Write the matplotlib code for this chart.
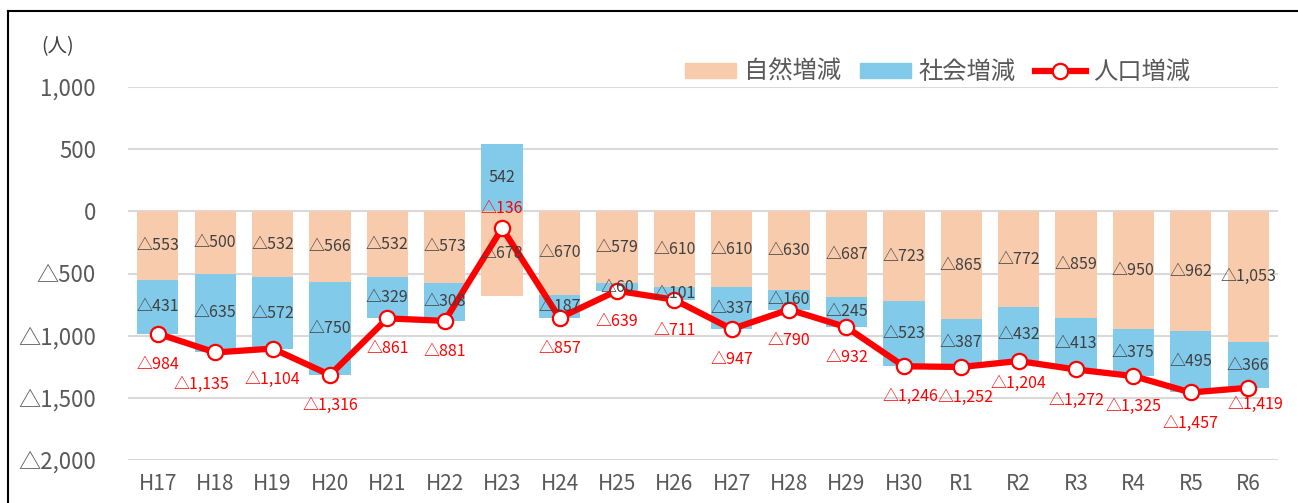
import matplotlib.pyplot as plt
from matplotlib.lines import Line2D
from matplotlib.patches import Patch
import numpy as np

plt.rcParams['font.family'] = ['Noto Sans CJK JP', 'DejaVu Sans']

# data
years = ['H17', 'H18', 'H19', 'H20', 'H21', 'H22', 'H23', 'H24', 'H25', 'H26',
         'H27', 'H28', 'H29', 'H30', 'R1', 'R2', 'R3', 'R4', 'R5', 'R6']
natural = [-553, -500, -532, -566, -532, -573, -678, -670, -579, -610,
           -610, -630, -687, -723, -865, -772, -859, -950, -962, -1053]
social = [-431, -635, -572, -750, -329, -308, 542, -187, -60, -101,
          -337, -160, -245, -523, -387, -432, -413, -375, -495, -366]
total = [-984, -1135, -1104, -1316, -861, -881, -136, -857, -639, -711,
         -947, -790, -932, -1246, -1252, -1204, -1272, -1325, -1457, -1419]
yticks = [1000, 500, 0, -500, -1000, -1500, -2000]

c_nat = '#F8CBAD'
c_soc = '#82CAEA'
c_line = '#FF0000'
c_txt = '#595959'


def fmt(v):
    s = '{:,}'.format(abs(v))
    return ('△' + s) if v < 0 else s


fig = plt.figure(figsize=(12.98, 5.03), dpi=100)
ax = fig.add_axes([128 / 1298, 43 / 503, 1150 / 1298, 373 / 503])

x = np.arange(len(years))
nat = np.array(natural)
soc = np.array(social)
soc_bottom = np.where(soc < 0, nat, 0)

ax.bar(x, nat, width=0.72, color=c_nat, zorder=2)
ax.bar(x, soc, width=0.72, bottom=soc_bottom, color=c_soc, zorder=2)
ax.plot(x, total, color=c_line, lw=4.5, marker='o', ms=11,
        mfc='white', mec=c_line, mew=1.6, zorder=4)

for i in range(len(years)):
    ax.text(x[i], nat[i] / 2, fmt(natural[i]), ha='center', va='center',
            fontsize=11.5, color='#404040', zorder=5)
    ax.text(x[i], soc_bottom[i] + soc[i] / 2, fmt(social[i]), ha='center',
            va='center', fontsize=11.5, color='#404040', zorder=5)

# line label offsets (points)
offsets = {1: (-10, -23), 6: (0, 14), 13: (5, -22), 14: (3, -22),
           15: (0, -16), 19: (5, -12)}
for i, v in enumerate(total):
    dx, dy = offsets.get(i, (0, -22))
    ax.annotate(fmt(v), (x[i], v), xytext=(dx, dy), textcoords='offset points',
                ha='center', va='center', fontsize=11.5, color=c_line, zorder=6)

ax.set_xlim(-0.52, len(years) - 0.48)
ax.set_ylim(-2000, 1000)
ax.set_yticks(yticks)
ax.set_yticklabels([fmt(v) for v in yticks])
ax.set_xticks(x)
ax.set_xticklabels(years)
ax.tick_params(axis='both', length=0, colors=c_txt)
ax.tick_params(axis='y', pad=23, labelsize=16)
ax.tick_params(axis='x', pad=9, labelsize=15)
ax.yaxis.grid(True, color='#D9D9D9', lw=1.5, zorder=0)
ax.set_axisbelow(True)
for s in ax.spines.values():
    s.set_visible(False)

fig.text(58 / 1298, 1 - 47 / 503, '(人)', ha='center', va='center',
         fontsize=14, color='#404040')

handles = [Patch(color=c_nat, label='自然増減'),
           Patch(color=c_soc, label='社会増減'),
           Line2D([], [], color=c_line, lw=4.5, marker='o', ms=11,
                  mfc='white', mec=c_line, mew=1.6, label='人口増減')]
fig.legend(handles=handles, loc='center right', ncol=3, frameon=False,
           bbox_to_anchor=(1212 / 1298, 1 - 72 / 503), fontsize=17.5,
           labelcolor=c_txt, handlelength=2.1, columnspacing=0.8,
           handletextpad=0.3, handleheight=0.6)

# outer frame
fig.add_artist(Line2D([8 / 1298, 8 / 1298], [0, 1 - 11 / 503], color='black',
                      lw=1.5, transform=fig.transFigure))
fig.add_artist(Line2D([8 / 1298, 1], [1 - 11 / 503, 1 - 11 / 503],
                      color='black', lw=1.5, transform=fig.transFigure))

fig.savefig('out.png', dpi=100)
